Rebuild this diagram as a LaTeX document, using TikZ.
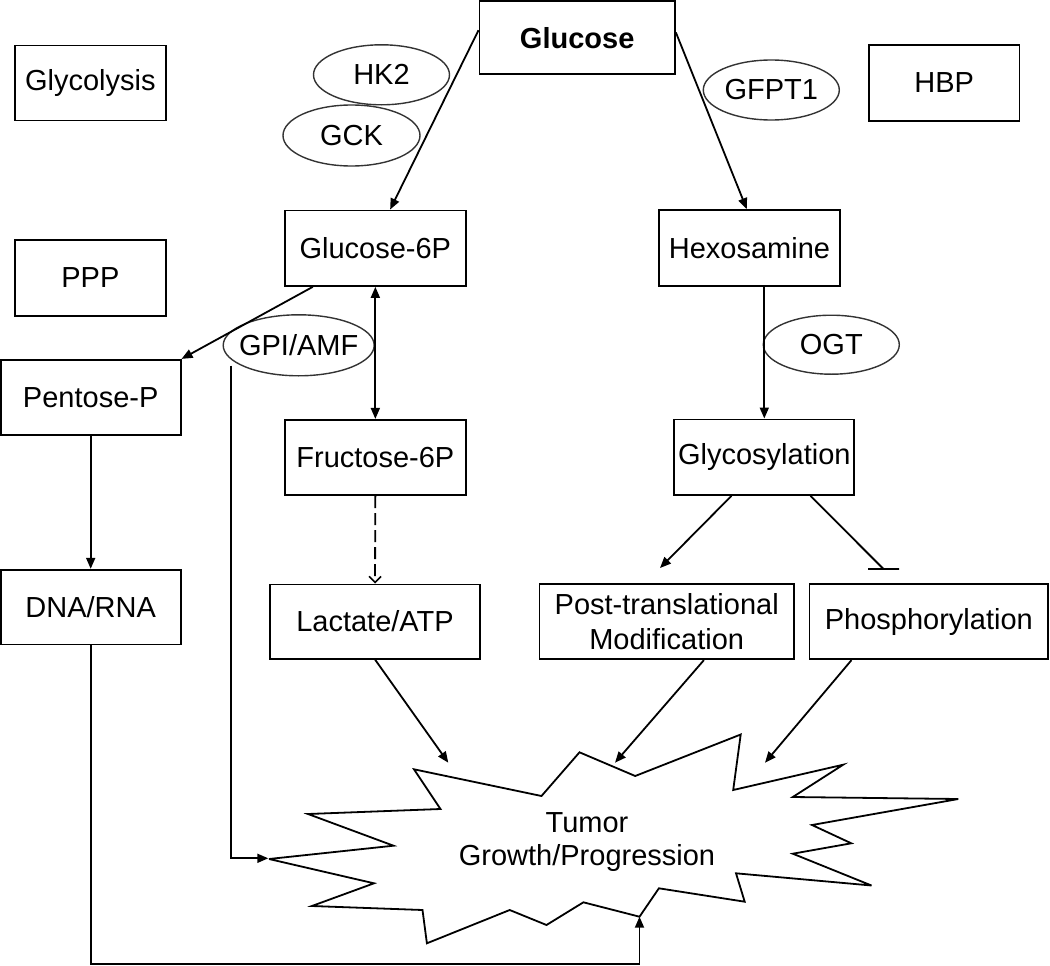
\documentclass[tikz,border=0pt]{standalone}
\usepackage{fontspec}
\setmainfont{Liberation Sans}
\usetikzlibrary{arrows.meta,shapes.geometric,calc}
\begin{document}
\begin{tikzpicture}[x=1pt,y=-1pt,
  every node/.style={font=\fontsize{29}{35}\selectfont},
  box/.style={draw, line width=1.7pt, rectangle, inner sep=0pt},
  enz/.style={draw=black!80, line width=1.4pt, ellipse, inner sep=0pt},
  conn/.style={line width=1.8pt},
  arr/.style={conn, -{Triangle[length=11pt,width=9pt]}},
  dbl/.style={conn, {Triangle[length=11pt,width=9pt]}-{Triangle[length=11pt,width=9pt]}},
  dsh/.style={conn, dash pattern=on 12pt off 5pt, -{Straight Barb[length=6pt,width=12pt,line width=1.6pt]}}
]
\useasboundingbox (0,0) rectangle (1050,966);
\fill[white] (0,0) rectangle (1050,966);

% boxes
\node[box, minimum width=195.7pt, minimum height=73pt, font=\fontsize{29}{35}\selectfont\bfseries] (glc) at (577.2,37.7) {Glucose};
\node[box, minimum width=150.7pt, minimum height=75pt] (glyco) at (90.35,83) {Glycolysis};
\node[box, minimum width=150.3pt, minimum height=75.7pt] (hbp) at (944.2,82.9) {HBP};
\node[box, minimum width=150.7pt, minimum height=75.5pt] (ppp) at (90.35,278) {PPP};
\node[box, minimum width=180.7pt, minimum height=75.6pt] (g6p) at (375.35,248.2) {Glucose-6P};
\node[box, minimum width=181pt, minimum height=76pt] (hex) at (749.5,248) {Hexosamine};
\node[box, minimum width=180pt, minimum height=75.5pt] (pent) at (90.7,397.5) {Pentose-P};
\node[box, minimum width=180.7pt, minimum height=75.5pt] (fru) at (375.35,457.5) {Fructose-6P};
\node[box, minimum width=180pt, minimum height=75.7pt] (glyc) at (764.3,457.2) {Glycosylation};
\node[box, minimum width=180pt, minimum height=74.7pt] (dna) at (90.7,607) {DNA/RNA};
\node[box, minimum width=210pt, minimum height=74.3pt] (lac) at (375,621.5) {Lactate/ATP};
\node[box, minimum width=254.7pt, minimum height=75pt, align=center] (post) at (666.7,621.8) {Post-translational\\Modification};
\node[box, minimum width=238.5pt, minimum height=75pt] (phos) at (928.8,621.8) {Phosphorylation};

% enzymes
\node[enz, minimum width=136pt, minimum height=60pt] (hk2) at (381.5,74.8) {\makebox[0pt]{HK2}};
\node[enz, minimum width=137pt, minimum height=61pt] (gck) at (351.5,135.5) {\makebox[0pt]{GCK}};
\node[enz, minimum width=136pt, minimum height=60pt] (gfpt1) at (771.3,90) {\makebox[0pt]{GFPT1}};
\node[enz, minimum width=151pt, minimum height=61pt] (gpi) at (298.7,345.3) {\makebox[0pt]{GPI/AMF}};
\node[enz, minimum width=136pt, minimum height=59pt] (ogt) at (831.3,344.7) {\makebox[0pt]{OGT}};

% starburst
\draw[line width=1.8pt, line join=miter, miter limit=6]
  (269,859) -- (393.5,845.7) -- (308,814) -- (440.5,809) -- (414,769.3)
  -- (541.5,796) -- (579.5,752.3) -- (635.2,776) -- (740.7,734.5)
  -- (733.2,790) -- (843.2,764.7) -- (792.8,797) -- (958.3,799)
  -- (812,825) -- (851.3,843.3) -- (792.8,853.7) -- (871.5,885.5)
  -- (736,873.3) -- (744.7,901.7) -- (658.9,888.3) -- (639.5,916.7)
  -- (583.4,902.3) -- (546.5,925) -- (509.7,910) -- (426.9,943.3)
  -- (422.5,910) -- (311.9,906) -- (374,883.3) -- cycle;
\node[align=center, font=\fontsize{29}{33}\selectfont] (tumor) at (587,842) {Tumor\\Growth/Progression};

% coordinates for free ends
\coordinate (sl) at (268.3,858.3);
\coordinate (sb) at (639.5,916.7);
\coordinate (sbase) at (639.5,964);
\coordinate (t1) at (448.3,762.7);
\coordinate (t2) at (615,762.7);
\coordinate (t3) at (765,762.7);
\coordinate (gpis) at (230.7,365.5);
\coordinate (ptend) at (660,568);
\coordinate (phend) at (883.5,569);

% connectors
\draw[arr] ($(glc.north west)!0.4!(glc.south west)$) -- ($(g6p.north west)!0.581!(g6p.north east)$);
\draw[arr] ($(glc.north east)!0.43!(glc.south east)$) -- ($(hex.north west)!0.485!(hex.north east)$);
\draw[arr] ($(g6p.south west)!0.157!(g6p.south east)$) -- (pent.north east);
\draw[dbl] (g6p.south) -- (fru.north);
\draw[dsh] (fru.south) -- (lac.north);
\draw[arr] (pent.south) -- (dna.north);
\draw[arr] (hex.south -| glyc.north) -- (glyc.north);
\draw[arr] ($(glyc.south west)!0.319!(glyc.south east)$) -- (ptend);
\draw[conn] ($(glyc.south west)!0.754!(glyc.south east)$) -- (phend) ++(-15.5,0) -- ++(31,0);
\draw[arr] (lac.south) -- (t1);
\draw[arr] ($(post.south west)!0.645!(post.south east)$) -- (t2);
\draw[arr] ($(phos.south west)!0.178!(phos.south east)$) -- (t3);
\draw[arr] (gpis) |- (sl);
\draw[arr] (dna.south) |- (sbase) -- (sb);
\end{tikzpicture}
\end{document}
